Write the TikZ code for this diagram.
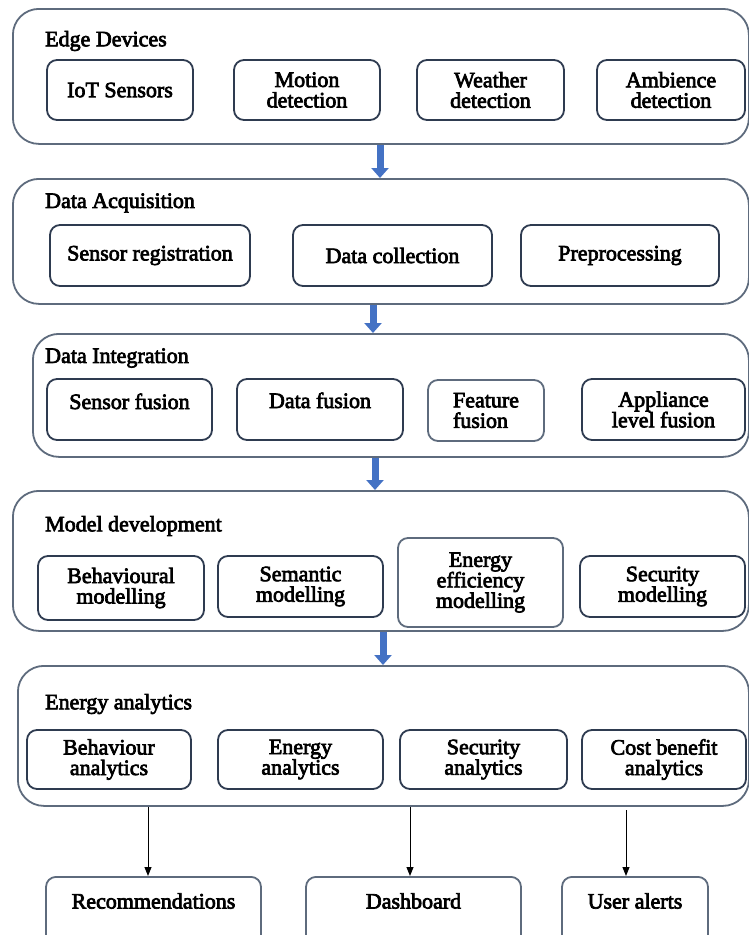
\documentclass[tikz,border=0pt]{standalone}
\usepackage{fontspec}
\setmainfont{Liberation Serif}
\newfontfamily\semib[FakeBold=3.2]{Liberation Serif}
\usetikzlibrary{arrows.meta,calc}
\definecolor{panelc}{HTML}{5E6B7D}
\definecolor{boxc}{HTML}{2E3B50}
\definecolor{arrowblue}{HTML}{4472C4}
\definecolor{arrowedge}{HTML}{2F5597}
\begin{document}
\begin{tikzpicture}[x=1pt,y=1pt,
  panel/.style={draw=panelc, line width=1.8pt, rounded corners=26pt, anchor=north west, inner sep=0pt},
  ibox/.style={draw=boxc, line width=1.8pt, rounded corners=10pt, align=center, inner sep=2pt,
     font=\fontsize{22}{20.5}\semib},
  title/.style={anchor=west, inner sep=0pt, font=\fontsize{22}{22}\semib},
  lbl/.style={inner sep=0pt, font=\fontsize{22}{21}\semib},
  bluearrow/.style={draw=arrowedge, line width=7pt, color=arrowblue,
     -{Triangle[width=17pt,length=10pt]}},
  blackarrow/.style={draw=black, line width=1pt, -{Triangle[width=7pt,length=9pt]}}
]
\useasboundingbox (0,0) rectangle (749,-935);
\clip (0,0) rectangle (749,-935);

% panels
\node[panel, minimum width=736pt, minimum height=135pt] (p1) at (12,-8) {};
\node[panel, minimum width=736pt, minimum height=125pt] (p2) at (12,-178) {};
\node[panel, minimum width=716pt, minimum height=123pt] (p3) at (32,-333) {};
\node[panel, minimum width=736pt, minimum height=140pt] (p4) at (12,-490) {};
\node[panel, minimum width=731pt, minimum height=140pt] (p5) at (17,-665) {};

% titles
\node[title] (t1) at (45,-41) {Edge Devices};
\node[title] (t2) at (45,-203) {Data Acquisition};
\node[title] (t3) at (45,-358) {Data Integration};
\node[title] (t4) at (45,-526) {Model development};
\node[title] (t5) at (45,-704) {Energy analytics};

% row 1
\node[ibox, minimum width=146pt, minimum height=60pt] (b11) at (120,-90) {IoT Sensors};
\node[ibox, minimum width=146pt, minimum height=60pt] (b12) at (307,-90) {Motion\\detection};
\node[ibox, minimum width=147pt, minimum height=60pt] (b13) at (490.5,-90) {Weather\\detection};
\node[ibox, minimum width=148pt, minimum height=60pt] (b14) at (671,-90) {Ambience\\detection};

% row 2
\node[ibox, minimum width=200pt, minimum height=61pt] (b21) at (150,-255.5) {Sensor registration};
\node[ibox, minimum width=199pt, minimum height=61pt] (b22) at (392.5,-255.5) {Data collection};
\node[ibox, minimum width=198pt, minimum height=61pt] (b23) at (620,-255.5) {Preprocessing};

% row 3
\node[ibox, minimum width=165pt, minimum height=61pt] (b31) at (129.5,-409.5) {Sensor fusion\\[-4pt]};
\node[ibox, minimum width=166pt, minimum height=61pt] (b32) at (320,-409.5) {Data fusion\\[-2pt]};
\node[ibox, draw=panelc, minimum width=116pt, minimum height=61pt, align=left] (b33) at (486,-410.5) {Feature\\fusion};
\node[ibox, minimum width=163pt, minimum height=61pt] (b34) at (663.5,-409.5) {Appliance\\level fusion};

% row 4
\node[ibox, minimum width=166pt, minimum height=64pt] (b41) at (121,-588) {Behavioural\\modelling};
\node[ibox, minimum width=165pt, minimum height=61pt] (b42) at (300.5,-586.5) {Semantic\\modelling};
\node[ibox, draw=panelc, minimum width=165pt, minimum height=89pt] (b43) at (480.5,-582.5) {Energy\\efficiency\\modelling};
\node[ibox, minimum width=165pt, minimum height=61pt] (b44) at (662.5,-586.5) {Security\\modelling};

% row 5
\node[ibox, minimum width=164pt, minimum height=59pt] (b51) at (109,-759.5) {Behaviour\\analytics};
\node[ibox, minimum width=165pt, minimum height=59pt] (b52) at (300.5,-759.5) {Energy\\analytics};
\node[ibox, minimum width=167pt, minimum height=59pt] (b53) at (483.5,-759.5) {Security\\analytics};
\node[ibox, minimum width=164pt, minimum height=59pt] (b54) at (664,-759.5) {Cost benefit\\analytics};

% outputs
\node[ibox, draw=panelc, minimum width=215pt, minimum height=72pt, anchor=north] (o1) at (153.5,-876) {};
\node[ibox, draw=panelc, minimum width=215pt, minimum height=72pt, anchor=north] (o2) at (413.5,-876) {};
\node[ibox, draw=panelc, minimum width=146pt, minimum height=72pt, anchor=north] (o3) at (635,-876) {};
\node[lbl] (o1t) at (153.5,-901) {Recommendations};
\node[lbl] (o2t) at (413.5,-901) {Dashboard};
\node[lbl] (o3t) at (635,-901) {User alerts};

% blue arrows between panels
\coordinate (a1) at (380,0);
\coordinate (a2) at (373,0);
\coordinate (a3) at (375,0);
\coordinate (a4) at (383,0);
\draw[bluearrow] (p1.south -| a1) -- (p2.north -| a1);
\draw[bluearrow] (p2.south -| a2) -- (p3.north -| a2);
\draw[bluearrow] (p3.south -| a3) -- (p4.north -| a3);
\draw[bluearrow] (p4.south -| a4) -- (p5.north -| a4);

% black arrows to outputs
\coordinate (c1) at (148,0);
\coordinate (c2) at (410,0);
\coordinate (c3) at (626,-810);
\draw[blackarrow] (p5.south -| c1) -- (o1.north -| c1);
\draw[blackarrow] (p5.south -| c2) -- (o2.north -| c2);
\draw[blackarrow] (c3) -- (o3.north -| c3);
\end{tikzpicture}
\end{document}
